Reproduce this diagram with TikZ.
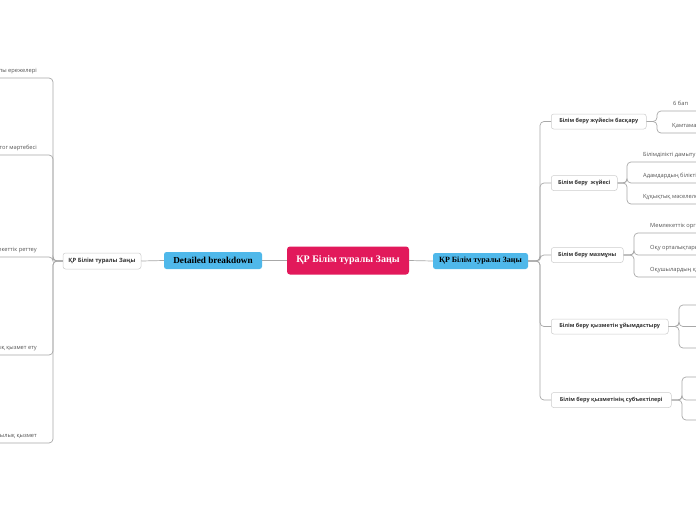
\documentclass[tikz,border=0pt]{standalone}
\usepackage{fontspec}
\setmainfont{Open Sans}
\newfontfamily\serifb{Liberation Serif}
\definecolor{crim}{HTML}{E2195B}
\definecolor{skyb}{HTML}{4FB8EA}
\definecolor{linec}{HTML}{A8A8A8}
\definecolor{boxc}{HTML}{CDCDCD}
\definecolor{txtc}{HTML}{333333}
\definecolor{leafc}{HTML}{555555}
\tikzset{
  conn/.style={draw=linec, line width=0.7pt, rounded corners=4pt},
  box/.style={draw=boxc, fill=white, line width=0.5pt, rounded corners=2.5pt,
    font=\bfseries\fontsize{5.5}{6}\selectfont, text=txtc, minimum height=15pt,
    inner xsep=4pt, inner ysep=0pt},
  leaf/.style={font=\fontsize{5.7}{6.5}\selectfont, text=leafc, inner xsep=3pt,
    inner ysep=0pt, text height=4pt, text depth=5.5pt},
}
\begin{document}
\begin{tikzpicture}[x=1pt,y=-1pt]
\clip (0,0) rectangle (696,520);
\fill[white] (0,0) rectangle (696,520);
% central
\node[fill=crim, rounded corners=3pt, minimum width=122pt, minimum height=28pt,
  text=white, font=\serifb\bfseries\fontsize{10}{12}\selectfont] (center) at (348,260.5) {ҚР Білім туралы Заңы};
\node[fill=skyb, rounded corners=2.5pt, minimum width=98pt, minimum height=17pt,
  inner sep=0pt, text=black, font=\serifb\bfseries\fontsize{9.2}{10}\selectfont] (db) at (213,260.5) {Detailed breakdown};
\node[box, minimum width=78pt, minimum height=16pt, font=\bfseries\fontsize{5.8}{7}\selectfont] (lnode) at (102,261) {ҚР Білім туралы Заңы};
\node[fill=skyb, rounded corners=2.5pt, minimum width=95pt, minimum height=16pt,
  inner sep=0pt, text=black, font=\serifb\bfseries\fontsize{8}{9}\selectfont] (rnode) at (480.5,261) {ҚР Білім туралы Заңы};
\draw[conn] (center.west) -- (db.east);
\draw[conn] (db.west) -- (lnode.east);
\draw[conn] (center.east) -- (rnode.west);
% right children
\node[box, anchor=west, minimum width=95pt] (c1) at (551,121.5) {Білім беру жүйесін басқару};
\node[box, anchor=west, minimum width=66pt] (c2) at (551,183) {Білім беру~~жүйесі};
\node[box, anchor=west, minimum width=72pt] (c3) at (551,255) {Білім беру мазмұны};
\node[box, anchor=west, minimum width=117pt] (c4) at (551,326.5) {Білім беру қызметін ұйымдастыру};
\node[box, anchor=west, minimum width=120pt] (c5) at (551,400) {Білім беру қызметінің субъектілері};
\foreach \c in {c1,c2,c3,c4,c5}{\draw[conn] (rnode.east) -- (540,261) |- (\c.west);}
% leaves of c1
\node[leaf, anchor=south west] (r11) at (670,111) {6 бап};
\node[leaf, anchor=south west] (r12) at (669,133) {Қамтамасыз ету};
\foreach \l in {r11,r12}{\draw[conn] (c1.east) -- (657,121.5) |- (\l.south west) -- (\l.south east) -- ++(40,0);}
% leaves of c2
\node[leaf, anchor=south west] (r21) at (640,162) {Білімділікті дамыту};
\node[leaf, anchor=south west] (r22) at (640,183) {Адамдардың біліктілігі};
\node[leaf, anchor=south west] (r23) at (640,204) {Құқықтық мәселелер};
\foreach \l in {r21,r22,r23}{\draw[conn] (c2.east) -- (627,183) |- (\l.south west) -- (\l.south east);}
% leaves of c3
\node[leaf, anchor=south west] (r31) at (647,233) {Мемлекеттік органдар};
\node[leaf, anchor=south west] (r32) at (647,255) {Оқу орталықтары};
\node[leaf, anchor=south west] (r33) at (647,277) {Оқушылардың құқықтары};
\foreach \l in {r31,r32,r33}{\draw[conn] (c3.east) -- (634,255) |- (\l.south west) -- (\l.south east);}
% leaves of c4, c5 (off page)
\coordinate (r41) at (710,305); \coordinate (r42) at (710,326.5); \coordinate (r43) at (710,348);
\foreach \l in {r41,r42,r43}{\draw[conn] (c4.east) -- (679,326.5) |- (\l);}
\coordinate (r51) at (710,377); \coordinate (r52) at (710,400); \coordinate (r53) at (710,420);
\foreach \l in {r51,r52,r53}{\draw[conn] (c5.east) -- (682,400) |- (\l);}
% left leaves
\node[leaf, anchor=south east] (l1) at (40,78) {Жалпы ережелері};
\node[leaf, anchor=south east] (l2) at (40,155) {Педагог мәртебесі};
\node[leaf, anchor=south east] (l3) at (40,257) {Мемлекеттік реттеу};
\node[leaf, anchor=south east] (l4) at (40,355) {Халықаралық қызмет ету};
\node[leaf, anchor=south east] (l5) at (40,443) {Қаржы-шаруашылық қызмет};
\foreach \l in {l1,l2,l3,l4,l5}{\draw[conn] (lnode.west) -- (53,261) |- (\l.south east) -- (\l.south west);}
\end{tikzpicture}
\end{document}
